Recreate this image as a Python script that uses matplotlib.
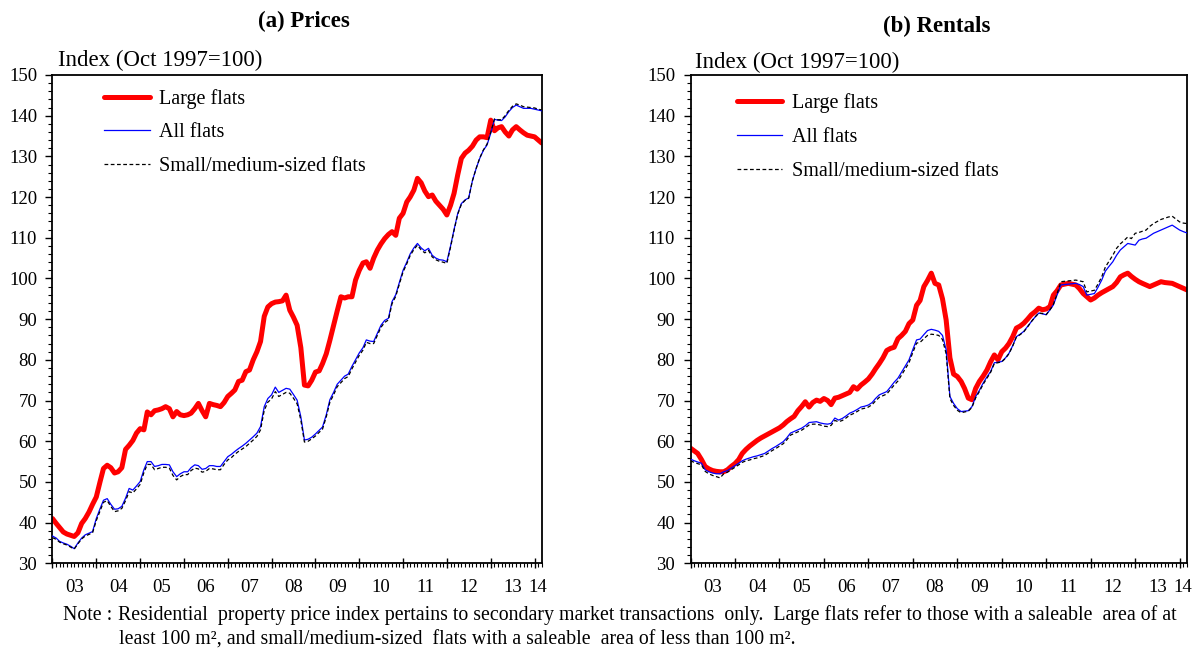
import numpy as np
import pandas as pd
import matplotlib
matplotlib.use("Agg")
import matplotlib.pyplot as plt
import matplotlib.dates as mdates

plt.rcParams['font.family'] = ['Liberation Serif', 'DejaVu Serif']

# monthly index, Jan 2003 - Mar 2014 (Oct 1997 = 100)
months = pd.date_range("2003-01-01", "2014-03-01", freq="MS")

price_large = [
    41.0, 39.8, 38.8, 37.7, 37.2, 36.9, 36.6, 37.5, 39.8, 41.0, 42.6, 44.5,
    46.3, 50.0, 53.3, 54.1, 53.5, 52.2, 52.5, 53.5, 58.0, 59.0, 60.2, 62.0,
    63.1, 62.8, 67.2, 66.5, 67.5, 67.7, 68.0, 68.5, 68.0, 66.0, 67.3, 66.5,
    66.3, 66.5, 66.9, 68.0, 69.3, 67.5, 66.0, 69.3, 69.0, 68.8, 68.5, 69.5,
    71.0, 71.8, 72.6, 74.7, 75.0, 77.1, 77.5, 80.0, 82.0, 84.5, 90.7, 93.0,
    93.8, 94.2, 94.3, 94.5, 95.9, 92.2, 90.5, 88.5, 83.0, 73.8, 73.6, 75.0,
    77.0, 77.3, 79.1, 81.5, 84.8, 88.5, 92.0, 95.5, 95.2, 95.5, 95.5, 99.6,
    102.0, 103.8, 104.1, 102.5, 105.0, 107.0, 108.5, 109.8, 110.8, 111.5, 110.6, 114.8,
    116.0, 118.8, 120.0, 121.7, 124.6, 123.5, 121.5, 120.1, 120.5, 119.0, 118.0, 117.0,
    115.6, 118.0, 120.9, 125.5, 129.5, 130.8, 131.5, 132.5, 134.0, 134.8, 134.8, 134.6,
    138.9, 136.3, 137.0, 137.3, 136.0, 135.0, 136.5, 137.3, 136.5, 135.8, 135.2, 135.0,
    134.8, 134.0, 133.3,
]
price_all = [
    36.7, 36.2, 35.4, 35.0, 34.7, 34.2, 33.6, 35.0, 36.2, 37.0, 37.4, 37.8,
    41.0, 43.4, 45.5, 45.9, 44.5, 43.3, 43.4, 44.0, 46.0, 48.4, 48.0, 49.0,
    50.1, 53.0, 55.0, 55.0, 53.8, 54.0, 54.3, 54.3, 54.2, 52.5, 51.3, 52.0,
    52.5, 52.5, 53.5, 54.2, 54.0, 53.1, 53.3, 54.0, 54.0, 53.8, 53.8, 55.0,
    56.2, 56.8, 57.5, 58.2, 58.8, 59.5, 60.3, 61.1, 62.0, 63.6, 68.5, 70.5,
    71.4, 73.3, 72.0, 72.5, 73.0, 72.8, 71.5, 70.1, 66.0, 60.3, 60.5, 61.0,
    61.8, 62.7, 63.5, 66.5, 70.2, 72.0, 74.0, 75.0, 76.0, 76.5, 78.4, 80.0,
    81.7, 83.0, 84.9, 84.6, 84.5, 86.5, 88.5, 89.7, 90.2, 94.3, 96.0, 99.0,
    102.0, 104.0, 106.0, 107.5, 108.6, 107.5, 106.8, 107.4, 105.7, 105.0, 104.6, 104.5,
    104.1, 108.0, 112.0, 116.0, 118.4, 119.3, 119.8, 124.0, 127.0, 129.5, 131.5, 132.8,
    135.7, 139.1, 138.9, 138.8, 139.7, 141.0, 142.0, 142.6, 142.2, 141.8, 141.8, 141.8,
    141.6, 141.4, 141.2,
]
price_small = [
    36.3, 35.9, 35.2, 34.8, 34.5, 34.0, 33.5, 34.8, 36.0, 36.7, 37.1, 37.5,
    40.5, 42.8, 45.0, 45.4, 44.0, 42.7, 42.9, 43.5, 45.4, 47.6, 47.3, 48.3,
    49.4, 52.3, 54.3, 54.3, 53.0, 53.3, 53.6, 53.6, 53.4, 51.6, 50.5, 51.3,
    51.8, 51.8, 52.8, 53.4, 53.2, 52.4, 52.6, 53.3, 53.2, 53.0, 53.0, 54.3,
    55.4, 56.0, 56.8, 57.5, 58.1, 58.7, 59.5, 60.3, 61.2, 62.8, 67.6, 69.6,
    70.4, 72.2, 71.0, 71.5, 72.0, 71.8, 70.6, 69.2, 65.2, 59.8, 60.0, 60.6,
    61.3, 62.2, 63.0, 66.0, 69.6, 71.4, 73.4, 74.4, 75.4, 75.9, 77.8, 79.4,
    81.1, 82.4, 84.3, 84.0, 84.0, 86.0, 88.0, 89.2, 89.8, 93.8, 95.6, 98.6,
    101.6, 103.6, 105.6, 107.1, 108.2, 107.0, 106.3, 106.9, 105.3, 104.6, 104.2, 104.0,
    103.7, 107.7, 111.8, 115.8, 118.2, 119.2, 119.7, 124.0, 127.0, 129.6, 131.6, 133.0,
    135.9, 139.2, 139.0, 139.0, 140.0, 141.3, 142.3, 142.9, 142.6, 142.2, 142.1, 142.0,
    141.9, 141.6, 141.4,
]

rent_large = [
    58.3, 57.6, 57.0, 55.5, 53.8, 53.2, 52.8, 52.6, 52.5, 52.5, 53.0, 53.8,
    54.5, 55.5, 57.0, 58.0, 58.8, 59.5, 60.2, 60.8, 61.3, 61.8, 62.3, 62.8,
    63.3, 64.0, 64.8, 65.5, 66.1, 67.5, 68.5, 69.7, 68.4, 69.5, 70.1, 69.8,
    70.5, 70.0, 69.0, 70.6, 70.8, 71.2, 71.6, 72.0, 73.4, 72.8, 73.8, 74.5,
    75.3, 76.5, 77.8, 79.1, 80.5, 82.3, 82.8, 83.1, 85.2, 86.0, 87.0, 88.9,
    89.8, 93.4, 94.6, 98.0, 99.5, 101.3, 98.8, 98.4, 95.0, 89.8, 80.5, 76.5,
    75.9, 74.7, 73.0, 70.6, 70.2, 73.0, 74.7, 76.0, 77.5, 79.5, 81.2, 80.0,
    82.0, 82.9, 84.0, 85.7, 87.8, 88.3, 89.0, 90.0, 91.1, 91.8, 92.7, 92.3,
    92.5, 93.1, 95.9, 97.0, 98.4, 98.6, 98.8, 98.6, 98.4, 97.5, 96.3, 95.5,
    94.7, 95.2, 95.9, 96.5, 97.0, 97.5, 98.0, 99.0, 100.4, 100.9, 101.3, 100.5,
    99.8, 99.2, 98.8, 98.4, 98.0, 98.4, 98.8, 99.2, 99.0, 98.9, 98.8, 98.4,
    98.0, 97.6, 97.2,
]
rent_all = [
    55.6, 55.2, 54.9, 54.6, 53.0, 52.5, 52.2, 52.0, 52.0, 52.5, 52.8, 53.4,
    54.0, 54.6, 55.2, 55.6, 55.9, 56.2, 56.4, 56.7, 57.0, 57.6, 58.2, 58.7,
    59.3, 59.9, 60.8, 62.0, 62.4, 62.8, 63.2, 63.8, 64.6, 64.7, 64.8, 64.5,
    64.3, 64.2, 64.4, 65.7, 65.2, 65.6, 66.2, 66.9, 67.3, 67.8, 68.4, 68.6,
    68.9, 69.5, 70.5, 71.4, 71.8, 72.2, 73.3, 74.5, 75.5, 77.0, 78.5, 80.0,
    82.5, 84.9, 85.1, 86.2, 87.2, 87.5, 87.3, 87.0, 86.0, 82.5, 71.0, 69.3,
    68.0, 67.3, 67.4, 67.5, 68.5, 71.0, 72.5, 74.3, 75.8, 77.1, 79.3, 79.4,
    79.6, 80.5, 81.6, 83.5, 85.7, 86.3, 87.0, 88.2, 89.4, 90.5, 91.5, 91.3,
    91.1, 92.3, 93.5, 96.0, 98.4, 98.5, 98.6, 98.7, 98.8, 98.5, 98.0, 95.9,
    96.1, 96.3, 97.8, 99.6, 101.8, 103.0, 104.1, 105.7, 107.0, 107.8, 108.6, 108.4,
    108.2, 109.4, 109.7, 109.9, 110.5, 111.1, 111.5, 111.9, 112.3, 112.7, 113.1, 112.5,
    111.9, 111.5, 111.2,
]
rent_small = [
    55.2, 54.8, 54.5, 54.2, 52.6, 52.0, 51.6, 51.3, 51.0, 52.0, 52.4, 53.0,
    53.6, 54.2, 54.8, 55.2, 55.4, 55.7, 55.9, 56.2, 56.5, 57.1, 57.7, 58.2,
    58.8, 59.4, 60.3, 61.5, 61.9, 62.3, 62.7, 63.3, 64.0, 64.2, 64.2, 64.0,
    63.7, 63.6, 63.9, 65.1, 64.8, 65.1, 65.7, 66.4, 66.8, 67.3, 67.9, 68.1,
    68.4, 69.0, 69.9, 70.8, 71.2, 71.6, 72.7, 73.8, 74.8, 76.3, 77.8, 79.3,
    81.8, 84.1, 84.3, 85.2, 86.0, 86.3, 86.2, 86.0, 85.0, 81.5, 70.5, 68.8,
    67.6, 67.0, 67.2, 67.4, 68.3, 70.7, 72.2, 74.0, 75.5, 76.9, 79.1, 79.3,
    79.5, 80.4, 81.5, 83.4, 85.6, 86.2, 86.9, 88.1, 89.4, 90.5, 91.5, 91.4,
    91.1, 92.3, 93.6, 96.3, 99.2, 99.3, 99.4, 99.5, 99.6, 99.4, 99.2, 96.7,
    96.9, 97.1, 98.6, 100.4, 102.8, 104.3, 105.7, 107.4, 108.5, 109.3, 110.2, 109.8,
    111.1, 111.3, 111.6, 111.9, 112.8, 113.5, 114.0, 114.5, 114.8, 115.1, 115.3, 114.6,
    113.9, 113.6, 113.5,
]

year_labels = ["03", "04", "05", "06", "07", "08", "09", "10", "11", "12", "13", "14"]
series_names = ["Large flats", "All flats", "Small/medium-sized flats"]

x = mdates.date2num(months)
x0, x1 = x[0], x[-1]
year_starts = mdates.date2num(pd.date_range("2003-01-01", "2015-01-01", freq="YS"))
label_pos = [(year_starts[i] + min(year_starts[i + 1], x1)) / 2 for i in range(len(year_labels))]


def draw_panel(ax, large, allf, small):
    l1, = ax.plot(x, large, color="#ff0000", lw=3.6, solid_capstyle="round", zorder=2)
    l2, = ax.plot(x, allf, color="#0000ff", lw=0.9, zorder=3)
    l3, = ax.plot(x, small, color="black", lw=0.9, ls=(0, (3, 2)), zorder=4)
    ax.set_xlim(x0, x1)
    ax.set_ylim(30, 150)
    ax.set_yticks(np.arange(30, 151, 10))
    ax.yaxis.set_minor_locator(matplotlib.ticker.MultipleLocator(2))
    ax.xaxis.set_major_locator(mdates.YearLocator())
    ax.xaxis.set_minor_locator(mdates.MonthLocator())
    ax.xaxis.set_major_formatter(matplotlib.ticker.NullFormatter())
    ax.tick_params(axis="x", which="major", direction="inout", length=7, width=1)
    ax.tick_params(axis="x", which="minor", direction="out", length=3, width=0.8)
    ax.tick_params(axis="y", which="major", direction="out", length=5, width=1,
                   labelsize=13.5, pad=6)
    ax.tick_params(axis="y", which="minor", direction="out", length=3, width=0.8)
    for sp in ax.spines.values():
        sp.set_linewidth(1.3)

    sec = ax.secondary_xaxis("bottom")
    sec.set_xticks(label_pos)
    sec.set_xticklabels(year_labels)
    sec.tick_params(length=0, pad=11, labelsize=13.5)
    sec.spines["bottom"].set_visible(False)
    return [l1, l2, l3]


fig = plt.figure(figsize=(11.93, 6.52), dpi=100)
ax1 = fig.add_axes([0.044, 0.136, 0.41, 0.749])
ax2 = fig.add_axes([0.5788, 0.136, 0.416, 0.749])

h1 = draw_panel(ax1, price_large, price_all, price_small)
h2 = draw_panel(ax2, rent_large, rent_all, rent_small)

ax1.legend(h1, series_names, frameon=False, loc="upper left", bbox_to_anchor=(0.106, 0.972),
           borderaxespad=0, borderpad=0, handlelength=2.25, handletextpad=0.45,
           labelspacing=0.72, fontsize=14.5)
ax2.legend(h2, series_names, frameon=False, loc="upper left", bbox_to_anchor=(0.094, 0.962),
           borderaxespad=0, borderpad=0, handlelength=2.25, handletextpad=0.45,
           labelspacing=0.72, fontsize=14.5)

ax1.text(0.012, 1.03, "Index (Oct 1997=100)", transform=ax1.transAxes,
         fontsize=16.5, ha="left", va="center")
ax2.text(0.009, 1.026, "Index (Oct 1997=100)", transform=ax2.transAxes,
         fontsize=16.5, ha="left", va="center")

fig.text(304 / 1193, 1 - 21 / 652, "(a) Prices", fontsize=16.5, fontweight="bold",
         ha="center", va="center")
fig.text(937 / 1193, 1 - 26 / 652, "(b) Rentals", fontsize=16.5, fontweight="bold",
         ha="center", va="center")

fig.text(63 / 1193, 1 - 615 / 652, "Note :", fontsize=14.3, ha="left", va="center")
fig.text(118 / 1193, 1 - 615 / 652,
         "Residential  property price index pertains to secondary market transactions  only.  "
         "Large flats refer to those with a saleable  area of at",
         fontsize=14.3, ha="left", va="center")
fig.text(119 / 1193, 1 - 640 / 652,
         "least 100 m², and small/medium-sized  flats with a saleable  area of less than 100 m².",
         fontsize=14.3, ha="left", va="center")

fig.savefig("out.png", dpi=100)
